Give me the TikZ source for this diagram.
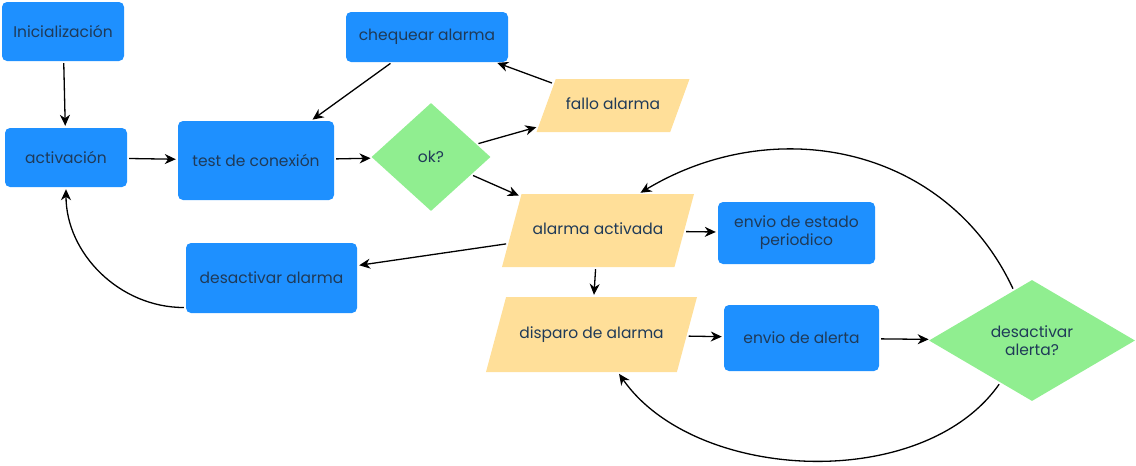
\documentclass[tikz,border=0pt]{standalone}
\usepackage{fontspec}
\setmainfont{Poppins}
\usetikzlibrary{shapes.geometric, arrows.meta}

\definecolor{boxblue}{HTML}{1E90FF}
\definecolor{ioyellow}{HTML}{FFDF99}
\definecolor{asklime}{HTML}{90EE90}
\definecolor{txtnavy}{HTML}{1F3A58}

\begin{document}
\begin{tikzpicture}[x=1pt, y=-1pt,
        every node/.style={font=\fontsize{15.5}{18}\selectfont, text=txtnavy, inner sep=0pt},
        proc/.style={rectangle, rounded corners=5pt, fill=boxblue},
        io/.style={trapezium, trapezium left angle=#1, trapezium right angle=180-#1,
            trapezium stretches body, fill=ioyellow, text height=11pt, text depth=3pt},
        ask/.style={diamond, fill=asklime, align=center},
        link/.style={-{Stealth[length=11pt, width=10pt, inset=3.5pt]}, line width=1.3pt, shorten >=2pt, shorten <=2pt}]
        \useasboundingbox (0,0) rectangle (1136,466);

        \node[proc, minimum width=122, minimum height=59] (init) at (63,31.5) {Inicialización};
        \node[proc, minimum width=122, minimum height=59] (activ) at (66,157.5) {activación};
        \node[proc, minimum width=156, minimum height=79] (test) at (256,160.5) {test de conexión};
        \node[proc, minimum width=162, minimum height=50] (cheq) at (427,37) {chequear alarma};
        \node[ask, minimum width=119, minimum height=108] (ok) at (431,157) {ok?};
        \node[io=70, minimum width=153, inner ysep=19.5pt] (fallo) at (613,105.5) {fallo alarma};
        \node[io=75, minimum width=192, inner ysep=29.5pt] (activada) at (598,230.5) {alarma activada};
        \node[proc, minimum width=157, minimum height=62, align=center] (estado) at (796.5,233) {envio de estado\\periodico};
        \node[proc, minimum width=171, minimum height=70] (desalarma) at (271.5,278) {desactivar alarma};
        \node[io=75, minimum width=211, inner ysep=30.5pt] (disparo) at (591.5,334.5) {disparo de alarma};
        \node[proc, minimum width=155, minimum height=66] (alerta) at (801.5,338) {envio de alerta};
        \node[ask, minimum width=206, minimum height=121] (desalerta) at (1032,340.5) {desactivar\\alerta?};

        \draw[link] (init) -- (activ);
        \draw[link] (activ) -- (test);
        \draw[link] (cheq) -- (test);
        \draw[link] (test) -- (ok);
        \draw[link] (ok) -- (fallo);
        \draw[link] (fallo) -- (cheq);
        \draw[link] (ok) -- (activada);
        \draw[link] (activada) -- (estado);
        \draw[link] (activada) -- (desalarma);
        \draw[link] (activada) -- (disparo);
        \draw[link] (disparo) -- (alerta);
        \draw[link] (alerta) -- (desalerta);

        % curved returns
        \draw[link] (desalerta.110) to[out=115, in=31, looseness=1.05] (activada.42);
        \draw[link] (desalerta.233) to[out=-125, in=-55, looseness=0.9] (disparo.-55);
        \draw[link] (desalarma.199) to[out=180, in=-90] (activ.south);
    \end{tikzpicture}
\end{document}
